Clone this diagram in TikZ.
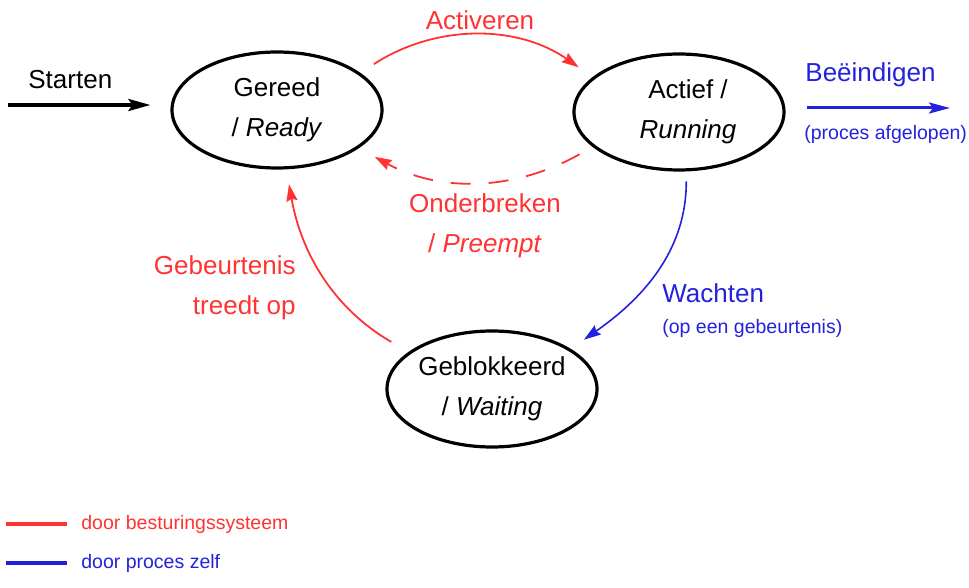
\documentclass[tikz,border=0pt]{standalone}
\usepackage{fontspec}
\setmainfont{Liberation Sans}
\usetikzlibrary{arrows.meta,shapes.geometric}
\definecolor{rood}{RGB}{255,51,51}
\definecolor{blauw}{RGB}{34,34,221}

\begin{document}
\begin{tikzpicture}[x=0.5pt,y=0.5pt,
toestand/.style={draw,ellipse,line width=1.6pt,minimum width=105pt,minimum height=58pt,inner sep=0pt,align=center,font=\fontsize{13}{20}\selectfont},
groot/.style={inner sep=0pt,font=\fontsize{13}{20}\selectfont},
klein/.style={inner sep=0pt,font=\fontsize{9.75}{12}\selectfont},
pijl/.style={-{Stealth[length=8.5pt,width=5.5pt,inset=1pt]},line width=0.9pt}]
\useasboundingbox (0,0) rectangle (969,-588);
\node[toestand] (gereed) at (277,-110) {Gereed\\/ \textit{Ready}};
\node[toestand] (actief) at (679,-112) {\hspace*{9pt}Actief /\\\hspace*{9pt}\textit{Running}};
\node[toestand] (geblok) at (492,-389) {Geblokkeerd\\/ \textit{Waiting}};
% starten en beeindigen
\coordinate (begin) at (8,-105);
\coordinate (einde) at (950,-108);
\draw[line width=1.6pt,-{Stealth[length=11pt,width=6pt,inset=2pt]},shorten >=10pt](begin)--(gereed.west |- begin);
\node[groot,anchor=base west] (starten) at (28,-89) {Starten};
\draw[blauw,line width=1.5pt,-{Stealth[length=10.5pt,width=5.5pt,inset=2pt]},shorten <=10.5pt](actief.east |- einde)--(einde);
\node[groot,blauw,anchor=base west] (beeindigen) at (805,-82) {Beëindigen};
\node[klein,blauw,anchor=base west] (afgelopen) at (804,-140) {(proces afgelopen)};
% overgangen
\draw[pijl,rood,shorten <=8pt,shorten >=8.5pt](gereed.24) to[bend left=34] (actief.158);
\node[groot,rood,anchor=base] (activeren) at (480,-30) {Activeren};
\draw[pijl,rood,dash pattern=on 10pt off 9pt,shorten <=7.5pt,shorten >=9pt](actief.202) to[bend left=29] (gereed.-25);
\node[groot,rood,align=center] (onderbreken) at (485,-226) {Onderbreken\\/ \textit{Preempt}};
\draw[pijl,blauw,line width=0.8pt,shorten <=5pt,shorten >=8pt](actief.-83) to[out=-90,in=35] (geblok.27);
\node[groot,blauw,anchor=base west] (wachten) at (662,-303) {Wachten};
\node[klein,blauw,anchor=base west] (wachtreden) at (662,-333) {(op een gebeurtenis)};
\draw[pijl,rood,shorten <=10pt,shorten >=7.5pt](geblok.156) to[out=150,in=-80] (gereed.-81);
\node[groot,rood,align=right,anchor=east] (gebeurtenis) at (296,-288) {Gebeurtenis\\treedt op};
% legenda
\foreach \kleur/\tekst/\y in {rood/door besturingssysteem/524,blauw/door proces zelf/563}
{\draw[\kleur,line width=2pt](6,-\y)--(67,-\y);
\node[klein,\kleur,anchor=base west] (legenda-\kleur) at (81,-\y-5) {\tekst};
}
\end{tikzpicture}
\end{document}
